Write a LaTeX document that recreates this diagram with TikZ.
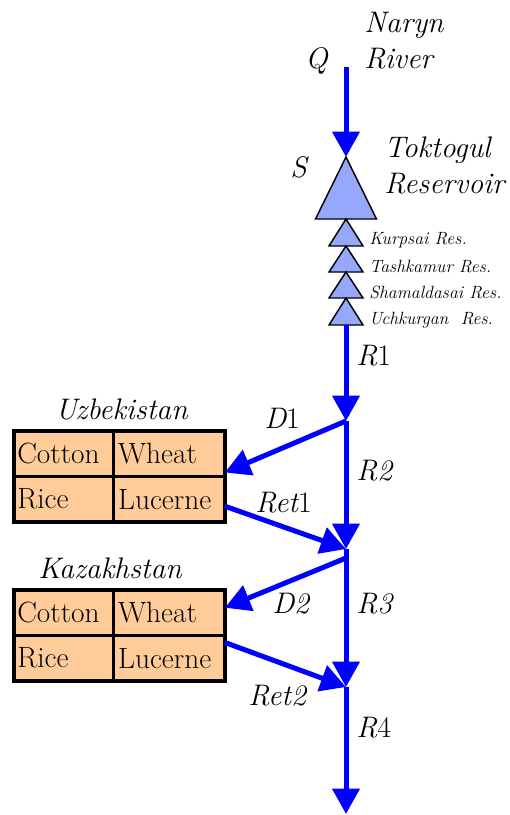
\documentclass[tikz,border=0pt]{standalone}
\usetikzlibrary{arrows.meta,calc}
\definecolor{riverblue}{RGB}{0,0,255}
\definecolor{resblue}{RGB}{150,168,250}
\definecolor{peach}{RGB}{255,204,153}

\begin{document}
\begin{tikzpicture}[x=0.75pt,y=-0.75pt,>={Triangle[length=19pt,width=20pt]},
  flow/.style={->,draw=riverblue,line width=3.75pt},
  resv/.style={draw=black,fill=resblue,line width=1.1pt,line join=miter},
  lab/.style={anchor=base west,inner sep=0pt,font=\fontsize{22.3}{26}\selectfont\itshape},
  reslab/.style={lab,font=\fontsize{13.3}{15}\selectfont\itshape},
  cell/.style={draw=black,fill=peach,line width=1.1pt,minimum height=33pt,align=left,
    font=\fontsize{22}{26}\selectfont,execute at begin node={\hyphenpenalty=10000}},
  leftcell/.style={cell,inner xsep=2pt,text width=69.5pt},
  rightcell/.style={cell,inner xsep=3pt,text width=76.5pt}]
\useasboundingbox (0,0) rectangle (510,815);

% Naryn river and the reservoir cascade (picture coordinates in pixels, y down)
\coordinate (src) at (346,67);
\coordinate (tok) at (346,157);
\coordinate (damout) at (346,325);
\coordinate (j1) at (346,421);
\coordinate (j2) at (346,549);
\coordinate (j2b) at (346,558);
\coordinate (j3) at (346,687);
\coordinate (sink) at (346,814);

\draw[resv] (tok) -- (376.5,219) -- (315.5,219) -- cycle;
\foreach \ya/\yb in {219/246,246/272,272/298,298/325}{
  \draw[resv] (346,\ya) -- (363,\yb) -- (329,\yb) -- cycle;
}

\node[lab] (qlab) at (305,68) {Q};
\node[lab] (naryn) at (364,32) {Naryn};
\node[lab] (river) at (364,68) {River};
\node[lab] (slab) at (290,177) {S};
\node[lab] (toktogul) at (384,157) {Toktogul};
\node[lab] (reservoir) at (384,193) {Reservoir};
\node[reslab] (kurpsai) at (369,244) {Kurpsai Res.};
\node[reslab] (tashkamur) at (369,272) {Tashkamur Res.};
\node[reslab] (shamaldasai) at (369,298) {Shamaldasai Res.};
\node[reslab] (uchkurgan) at (369,324) {Uchkurgan\ \ Res.};

% Demand tables for the two countries
\foreach \t/\ty/\cx/\country in {uz/431/55/Uzbekistan,kz/590/38/Kazakhstan}{
  \node[lab] (\t-name) at (\cx,\ty-12) {\country};
  \node[leftcell,anchor=north west] (\t-co) at (14,\ty) {Cotton};
  \node[rightcell,anchor=north west] (\t-wh) at (\t-co.north east) {Wheat};
  \node[leftcell,anchor=north west] (\t-ri) at (\t-co.south west) {Rice};
  \node[rightcell,anchor=north west] (\t-lu) at (\t-co.south east) {Lucerne};
  \draw[line width=3pt] (\t-co.north west) rectangle (\t-lu.south east);
}

\coordinate (uzIn) at ($(uz-wh.south east)+(0,-4)$);
\coordinate (uzOut) at ($(uz-lu.east)+(0,7)$);
\coordinate (kzIn) at ($(kz-wh.east)+(0,-5)$);
\coordinate (kzOut) at ($(kz-lu.north east)+(0,7)$);

% Flows
\draw[flow] (src) -- (tok);
\draw[flow] (damout) -- (j1);
\draw[flow] (j1) -- (j2);
\draw[flow] (j1) -- (uzIn);
\draw[flow] (uzOut) -- (j2);
\draw[flow] (j2) -- (j3);
\draw[flow] (j2b) -- (kzIn);
\draw[flow] (kzOut) -- (j3);
\draw[flow] (j3) -- (sink);

\node[lab] (r1) at (356,365) {R{\upshape1}};
\node[lab] (r2) at (356,480) {R2};
\node[lab] (r3) at (356,613) {R3};
\node[lab] (r4) at (356,737) {R{\upshape4}};
\node[lab] (d1) at (264,428) {D{\upshape1}};
\node[lab] (ret1) at (255,512) {Ret{\upshape1}};
\node[lab] (d2) at (272,613) {D2};
\node[lab] (ret2) at (248,705) {Ret2};
\end{tikzpicture}
\end{document}
